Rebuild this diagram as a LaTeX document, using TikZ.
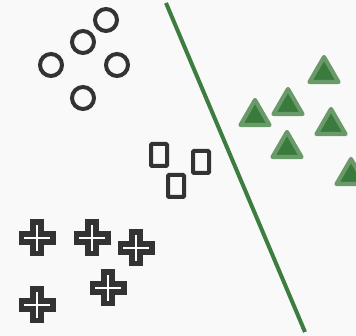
\documentclass[tikz,border=0pt]{standalone}
\definecolor{dk}{HTML}{333333}
\definecolor{lineg}{HTML}{3D7D3F}
\definecolor{trifill}{HTML}{3A7A3C}
\definecolor{trisk}{HTML}{6A9A6A}
\definecolor{bg}{HTML}{F9F9F9}
\tikzset{
  circ/.style={draw=dk, line width=4pt, circle, minimum size=22pt, inner sep=0pt},
  rbox/.style={draw=dk, line width=4pt, rectangle, minimum width=16pt, minimum height=22pt, inner sep=0pt, rounded corners=1pt},
  plusshape/.style={draw=dk, line width=5.5pt, fill=white, line join=miter},
  tri/.style={draw=trisk, fill=trifill, line width=4.2pt, line join=round},
  sep/.style={draw=lineg, line width=4pt}
}
\newcommand{\plusat}[2]{%
  \draw[plusshape] (#1-4,#2-15.75) -- (#1+4,#2-15.75) -- (#1+4,#2-4) -- (#1+15.75,#2-4) -- (#1+15.75,#2+4) -- (#1+4,#2+4) -- (#1+4,#2+15.75) -- (#1-4,#2+15.75) -- (#1-4,#2+4) -- (#1-15.75,#2+4) -- (#1-15.75,#2-4) -- (#1-4,#2-4) -- cycle;}
\newcommand{\triat}[2]{%
  \draw[tri] (#1,#2-14) -- (#1+14.5,#2+11) -- (#1-14.5,#2+11) -- cycle;}
\begin{document}
\begin{tikzpicture}[x=1pt,y=-1pt]
\fill[bg] (0,0) rectangle (356,336);
\useasboundingbox (0,0) rectangle (356,336);
% circles
\node[circ] (c1) at (106,20) {};
\node[circ] (c2) at (83,42) {};
\node[circ] (c3) at (51,65) {};
\node[circ] (c4) at (117,65) {};
\node[circ] (c5) at (83,98) {};
% rectangles
\node[rbox] (r1) at (159,155) {};
\node[rbox] (r2) at (176,186) {};
\node[rbox] (r3) at (201,162) {};
% crosses
\plusat{37}{238}
\plusat{92}{238}
\plusat{136}{248}
\plusat{108}{288}
\plusat{37}{305}
% separating line
\coordinate (la) at (166,3);
\coordinate (lb) at (305,332);
\draw[sep] (la) -- (lb);
% triangles
\triat{324}{71}
\triat{288}{103}
\triat{255}{114}
\triat{331}{123}
\triat{287}{146}
\triat{351}{173}
\end{tikzpicture}
\end{document}
